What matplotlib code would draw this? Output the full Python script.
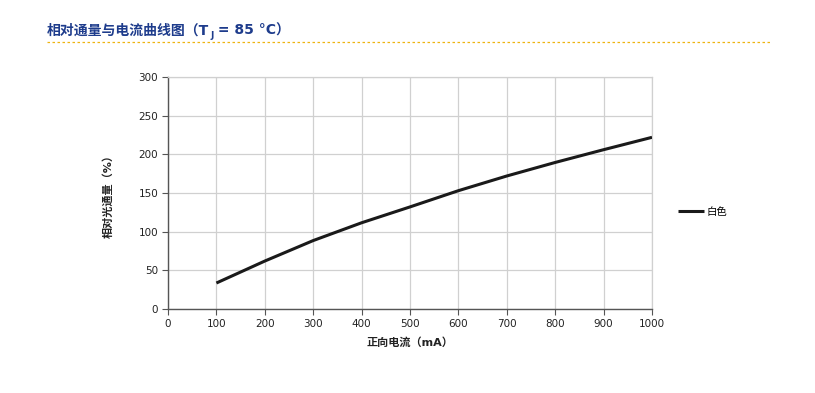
import matplotlib
matplotlib.use("Agg")
import matplotlib.pyplot as plt
from matplotlib.lines import Line2D

plt.rcParams['font.family'] = ['DejaVu Sans', 'Noto Sans CJK SC']

current_ma = [100, 200, 300, 400, 500, 600, 700, 800, 900, 1000]
relative_flux = [33.6, 62, 88.5, 111.5, 132, 153, 172, 189.5, 206, 222]
series_name = "白色"
title_main = "相对通量与电流曲线图（T"
title_sub = "J"
title_rest = " = 85 °C）"
xlabel_text = "正向电流（mA）"
ylabel_text = "相对光通量（%）"
xticks = list(range(0, 1001, 100))
yticks = list(range(0, 301, 50))

fam = ['DejaVu Sans', 'Noto Sans CJK SC']

fig = plt.figure(figsize=(8.15, 3.93), dpi=100)
ax = fig.add_axes([168/815, 1-309/393, (652-168)/815, (309-77)/393])

ax.plot(current_ma, relative_flux, color='#1a1a1a', lw=2.2, label=series_name,
        solid_capstyle='butt', zorder=3)
ax.set_xlim(0, 1000)
ax.set_ylim(0, 300)
ax.set_xticks(xticks)
ax.set_yticks(yticks)
ax.grid(True, color='#d0d0d0', lw=0.9)
ax.set_axisbelow(True)
for s in ['top', 'right']:
    ax.spines[s].set_color('#d0d0d0')
    ax.spines[s].set_linewidth(0.9)
for s in ['left', 'bottom']:
    ax.spines[s].set_color('#555555')
    ax.spines[s].set_linewidth(1.0)
ax.tick_params(axis='both', labelsize=7.5, colors='#555555', labelcolor='#222222',
               length=4, width=0.8, direction='out', pad=3)
ax.set_xlabel(xlabel_text, fontsize=8, fontweight='bold', color='#222222',
              family=fam, labelpad=6)
ax.set_ylabel(ylabel_text, fontsize=8, fontweight='bold', color='#222222',
              family=fam, labelpad=18)

leg = ax.legend(loc='center left', bbox_to_anchor=(1.035, 0.42), frameon=False,
                handlelength=2.5, handletextpad=0.2,
                prop={'family': ['Noto Sans CJK SC', 'DejaVu Sans'], 'size': 7.5})

tcol = '#1e3c8c'
ty = 1 - 35/393
t1 = fig.text(47/815, ty, title_main, fontsize=10, fontweight='bold', color=tcol,
              family=fam, va='baseline', ha='left')
t2 = ax.annotate(title_sub, xy=(1, ty), xycoords=(t1, 'figure fraction'), xytext=(0.6, -2.5),
                 textcoords='offset points', fontsize=6.5, fontweight='bold',
                 color=tcol, family=fam, va='baseline', ha='left',
                 annotation_clip=False)
t3 = ax.annotate(title_rest, xy=(1, ty), xycoords=(t2, 'figure fraction'), xytext=(0, 0),
                 textcoords='offset points', fontsize=10, fontweight='bold',
                 color=tcol, family=fam, va='baseline', ha='left',
                 annotation_clip=False)
fig.add_artist(Line2D([47/815, 770/815], [1-42/393, 1-42/393], transform=fig.transFigure,
                      color='#eeb410', lw=0.9, ls=(0, (2, 2))))

fig.savefig('out.png', dpi=100)
